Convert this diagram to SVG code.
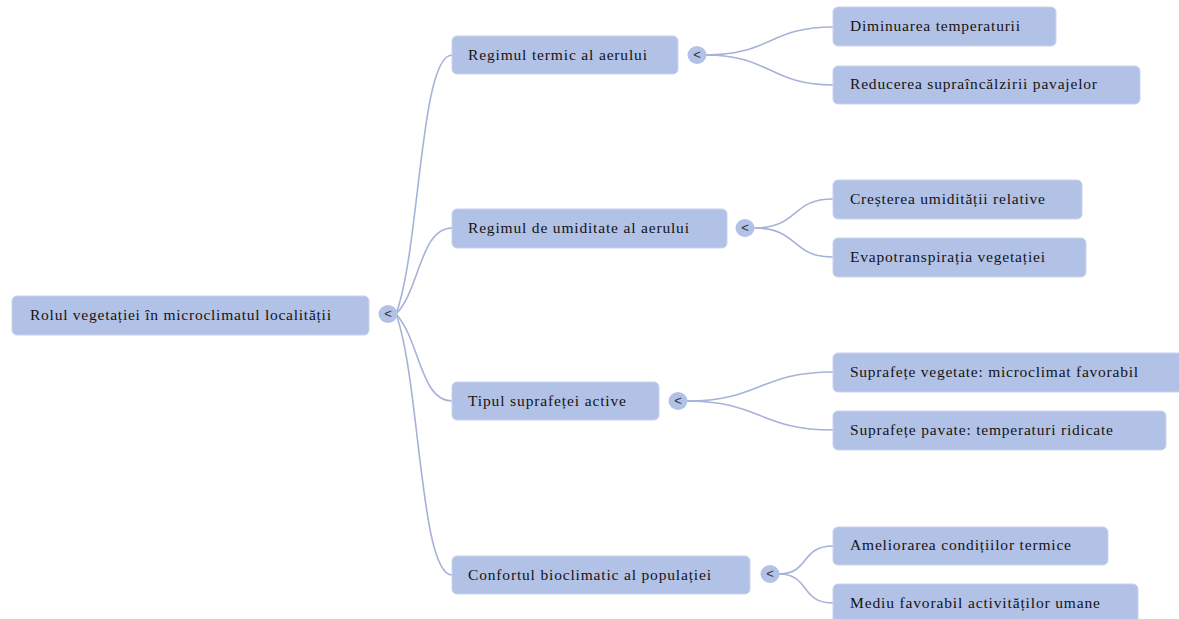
<svg xmlns="http://www.w3.org/2000/svg" width="1179" height="619" viewBox="0 0 1179 619">
<style>
.box{fill:#b2c1e6;stroke:#c9d3ee;stroke-width:1}
.lbl{font-family:"Liberation Serif","Times New Roman","DejaVu Serif",serif;font-size:15.5px;fill:#141414}
.tg{fill:#b2c1e6}
.tgt{font-family:"Liberation Sans",Arial,sans-serif;font-size:13px;fill:#333;text-anchor:middle}
.con{fill:none;stroke:#a6b2d8;stroke-width:1.6}
</style>
<rect width="1179" height="619" fill="#ffffff"/>
<g id="connectors">
<path class="con" d="M396,314 C420,250 420,55 452,55"/>
<path class="con" d="M396,314 C420,290 420,228 452,228"/>
<path class="con" d="M396,314 C420,340 420,401 452,401"/>
<path class="con" d="M396,314 C420,380 420,575 452,575"/>
<path class="con" d="M706,55 C770,55 770,27 833,27"/>
<path class="con" d="M706,55 C770,55 770,85 833,85"/>
<path class="con" d="M754,228 C800,228 790,199 833,199"/>
<path class="con" d="M754,228 C800,228 790,257 833,257"/>
<path class="con" d="M687,401 C760,401 760,372 833,372"/>
<path class="con" d="M687,401 C760,401 760,430 833,430"/>
<path class="con" d="M779,574 C810,574 800,546 833,546"/>
<path class="con" d="M779,574 C810,574 800,603 833,603"/>
</g>
<g id="root">
<rect class="box" x="12" y="296" width="357" height="39" rx="5"/>
<text class="lbl" x="30" y="320" textLength="301" lengthAdjust="spacing">Rolul vegetației în microclimatul localității</text>
<ellipse class="tg" cx="388" cy="314" rx="9.5" ry="9"/>
<text class="tgt" x="388" y="318">&lt;</text>
</g>
<g id="n1">
<rect class="box" x="452" y="36" width="226" height="38" rx="5"/>
<text class="lbl" x="468" y="60" textLength="179" lengthAdjust="spacing">Regimul termic al aerului</text>
<ellipse class="tg" cx="697" cy="55" rx="9.5" ry="9"/>
<text class="tgt" x="697" y="59">&lt;</text>
</g>
<g id="n2">
<rect class="box" x="452" y="209" width="275" height="39" rx="5"/>
<text class="lbl" x="468" y="233" textLength="221" lengthAdjust="spacing">Regimul de umiditate al aerului</text>
<ellipse class="tg" cx="745" cy="228" rx="9.5" ry="9"/>
<text class="tgt" x="745" y="232">&lt;</text>
</g>
<g id="n3">
<rect class="box" x="452" y="382" width="207" height="38" rx="5"/>
<text class="lbl" x="468" y="406" textLength="158" lengthAdjust="spacing">Tipul suprafeței active</text>
<ellipse class="tg" cx="678" cy="401" rx="9.5" ry="9"/>
<text class="tgt" x="678" y="405">&lt;</text>
</g>
<g id="n4">
<rect class="box" x="452" y="556" width="298" height="38" rx="5"/>
<text class="lbl" x="468" y="580" textLength="243" lengthAdjust="spacing">Confortul bioclimatic al populației</text>
<ellipse class="tg" cx="770" cy="574" rx="9.5" ry="9"/>
<text class="tgt" x="770" y="578">&lt;</text>
</g>
<g id="n1a">
<rect class="box" x="833" y="7" width="223" height="39" rx="5"/>
<text class="lbl" x="850" y="31" textLength="170" lengthAdjust="spacing">Diminuarea temperaturii</text>
</g>
<g id="n1b">
<rect class="box" x="833" y="66" width="307" height="38" rx="5"/>
<text class="lbl" x="850" y="89" textLength="247" lengthAdjust="spacing">Reducerea supraîncălzirii pavajelor</text>
</g>
<g id="n2a">
<rect class="box" x="833" y="180" width="249" height="39" rx="5"/>
<text class="lbl" x="850" y="204" textLength="195" lengthAdjust="spacing">Creșterea umidității relative</text>
</g>
<g id="n2b">
<rect class="box" x="833" y="238" width="253" height="39" rx="5"/>
<text class="lbl" x="850" y="262" textLength="195" lengthAdjust="spacing">Evapotranspirația vegetației</text>
</g>
<g id="n3a">
<rect class="box" x="833" y="353" width="352" height="39" rx="5"/>
<text class="lbl" x="850" y="377" textLength="288" lengthAdjust="spacing">Suprafețe vegetate: microclimat favorabil</text>
</g>
<g id="n3b">
<rect class="box" x="833" y="411" width="333" height="39" rx="5"/>
<text class="lbl" x="850" y="435" textLength="263" lengthAdjust="spacing">Suprafețe pavate: temperaturi ridicate</text>
</g>
<g id="n4a">
<rect class="box" x="833" y="527" width="275" height="38" rx="5"/>
<text class="lbl" x="850" y="550" textLength="221" lengthAdjust="spacing">Ameliorarea condițiilor termice</text>
</g>
<g id="n4b">
<rect class="box" x="833" y="584" width="305" height="40" rx="5"/>
<text class="lbl" x="850" y="608" textLength="250" lengthAdjust="spacing">Mediu favorabil activităților umane</text>
</g>
</svg>
